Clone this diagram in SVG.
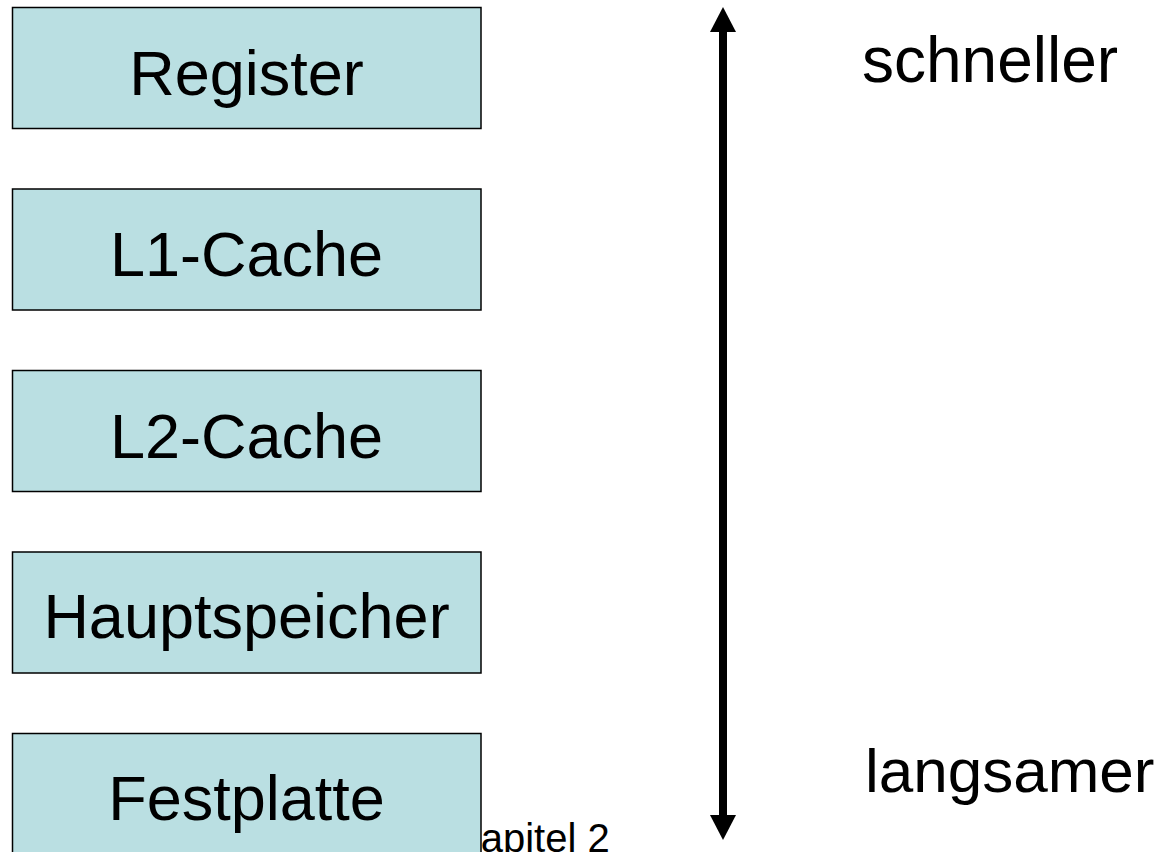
<svg xmlns="http://www.w3.org/2000/svg" width="1170" height="852" viewBox="0 0 1170 852">
<defs>
<style>
.box{fill:#badfe2;stroke:#000;stroke-width:1.5}
.lbl{font-family:"Liberation Sans",Arial,sans-serif;font-size:63px;fill:#000;text-anchor:middle}
.side{font-family:"Liberation Sans",Arial,sans-serif;font-size:63px;fill:#000}
.foot{font-family:"Liberation Sans",Arial,sans-serif;font-size:40px;fill:#000}
</style>
<marker id="ah" markerUnits="userSpaceOnUse" markerWidth="26" markerHeight="26" viewBox="0 0 26 26" refX="0" refY="13" orient="auto-start-reverse">
<path d="M0,0 L25,13 L0,26 Z" fill="#000"/>
</marker>
</defs>
<rect width="1170" height="852" fill="#fff"/>
<text class="foot" x="454" y="852">Kapitel 2</text>
<g id="register"><rect class="box" x="12.5" y="7.5" width="468.5" height="121"/><text class="lbl" x="246.5" y="95">Register</text></g>
<g id="l1cache"><rect class="box" x="12.5" y="189" width="468.5" height="121"/><text class="lbl" x="246.5" y="276">L1-Cache</text></g>
<g id="l2cache"><rect class="box" x="12.5" y="370.5" width="468.5" height="121"/><text class="lbl" x="246.5" y="457.5">L2-Cache</text></g>
<g id="hauptspeicher"><rect class="box" x="12.5" y="552" width="468.5" height="121"/><text class="lbl" x="246.5" y="638">Hauptspeicher</text></g>
<g id="festplatte"><rect class="box" x="12.5" y="733.5" width="468.5" height="140"/><text class="lbl" x="246.5" y="820">Festplatte</text></g>
<g id="connectors">
<line x1="723" y1="32" x2="723" y2="815" stroke="#000" stroke-width="8" marker-start="url(#ah)" marker-end="url(#ah)"/>
</g>
<g id="schneller"><text class="side" x="862" y="82" style="font-size:64px">schneller</text></g>
<g id="langsamer"><text class="side" x="865" y="792" style="font-size:62px">langsamer</text></g>
</svg>
